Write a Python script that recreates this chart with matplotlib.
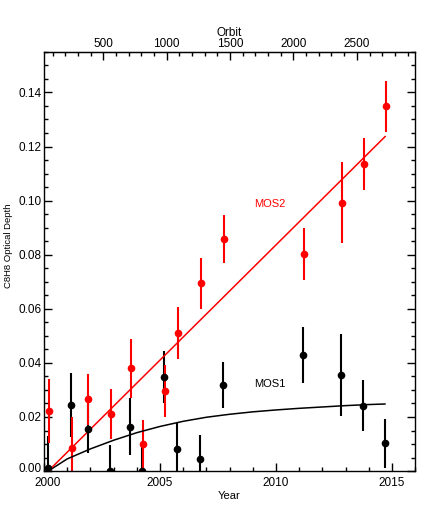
import matplotlib
matplotlib.use('Agg')
import matplotlib.pyplot as plt
import matplotlib.transforms as mtransforms
from matplotlib.ticker import MultipleLocator

plt.rcParams['font.family'] = ['Liberation Sans', 'DejaVu Sans']
plt.rcParams['font.size'] = 8.5

# MOS1 (black) measurements
mos1_year = [2000.18, 2001.16, 2001.88, 2002.84, 2003.70, 2004.21, 2005.19,
             2005.73, 2006.72, 2007.70, 2011.18, 2012.82, 2013.75, 2014.70]
mos1_od = [0.0012, 0.0244, 0.0156, 0.0001, 0.0164, 0.0000, 0.0347,
           0.0083, 0.0043, 0.0319, 0.0428, 0.0356, 0.0242, 0.0103]
mos1_err = [0.0118, 0.0117, 0.0091, 0.0095, 0.0105, 0.0090, 0.0096,
            0.0094, 0.0090, 0.0086, 0.0104, 0.0152, 0.0094, 0.0090]

# MOS2 (red) measurements
mos2_year = [2000.22, 2001.21, 2001.90, 2002.88, 2003.76, 2004.26, 2005.23,
             2005.79, 2006.78, 2007.76, 2011.23, 2012.87, 2013.80, 2014.75]
mos2_od = [0.0223, 0.0084, 0.0265, 0.0210, 0.0380, 0.0099, 0.0296,
           0.0510, 0.0694, 0.0858, 0.0804, 0.0993, 0.1136, 0.1349]
mos2_err = [0.0118, 0.0117, 0.0095, 0.0093, 0.0110, 0.0090, 0.0097,
            0.0097, 0.0093, 0.0090, 0.0096, 0.0148, 0.0096, 0.0094]

# fitted trends
fit1_year = [2000.18, 2001.0, 2002.0, 2003.0, 2004.0, 2005.0, 2006.0, 2007.0,
             2008.0, 2009.0, 2010.0, 2011.0, 2012.0, 2013.0, 2014.0, 2014.70]
fit1_od = [0.0, 0.0045, 0.0082, 0.0114, 0.0142, 0.0165, 0.0184, 0.0199,
           0.0210, 0.0219, 0.0226, 0.0232, 0.0237, 0.0242, 0.0246, 0.0248]
fit2_year = [2000.18, 2014.71]
fit2_od = [0.0, 0.1237]

# year <-> XMM orbit number
def year2orbit(y):
    return 33 + 182.9 * (y - 2000)

def orbit2year(o):
    return 2000 + (o - 33) / 182.9

fig = plt.figure(figsize=(4.36, 5.24), dpi=100)
ax = fig.add_axes([0.101, 0.101, 0.851, 0.80])

ax.errorbar(mos1_year, mos1_od, yerr=mos1_err, fmt='o', color='black',
            ms=4.5, elinewidth=1.5, capsize=0)
ax.errorbar(mos2_year, mos2_od, yerr=mos2_err, fmt='o', color='red',
            ms=4.5, elinewidth=1.5, capsize=0)
ax.plot(fit1_year, fit1_od, color='black', lw=1.1)
ax.plot(fit2_year, fit2_od, color='red', lw=1.1)

ax.text(2009.75, 0.0988, 'MOS2', color='red', fontsize=8, ha='center', va='center')
ax.text(2009.75, 0.0323, 'MOS1', color='black', fontsize=8, ha='center', va='center')

ax.set_xlim(2000, 2016)
ax.set_ylim(0, 0.155)
ax.xaxis.set_major_locator(MultipleLocator(5))
ax.xaxis.set_minor_locator(MultipleLocator(1))
ax.yaxis.set_major_locator(MultipleLocator(0.02))
ax.yaxis.set_minor_locator(MultipleLocator(0.005))
ax.yaxis.set_major_formatter(plt.FormatStrFormatter('%.2f'))
ax.tick_params(which='both', direction='in', right=True, top=False, width=1.0)
ax.tick_params(which='major', length=6, pad=4)
ax.tick_params(which='minor', length=3)
ax.tick_params(axis='y', which='major', pad=2)
for s in ax.spines.values():
    s.set_linewidth(1.0)

ax.set_xlabel('Year', fontsize=8, labelpad=2)
ax.set_ylabel('C8H8 Optical Depth', fontsize=6.8)
ax.yaxis.set_label_coords(-0.084, 0.537)

top = ax.secondary_xaxis('top', functions=(year2orbit, orbit2year))
top.xaxis.set_major_locator(MultipleLocator(500))
top.xaxis.set_minor_locator(MultipleLocator(100))
top.tick_params(which='both', direction='in', width=1.0)
top.tick_params(which='major', length=6, pad=1)
top.tick_params(which='minor', length=3)
top.set_xlabel('Orbit', labelpad=1.5)

# IDL-style nudges of the first tick labels
fig.canvas.draw()
up = mtransforms.ScaledTranslation(0, 3.5 / 100, fig.dpi_scale_trans)
right = mtransforms.ScaledTranslation(3.5 / 100, 0, fig.dpi_scale_trans)
for lab in ax.get_yticklabels():
    if lab.get_text() == '0.00':
        lab.set_transform(lab.get_transform() + up)
for lab in ax.get_xticklabels():
    if lab.get_text() == '2000':
        lab.set_transform(lab.get_transform() + right)

fig.savefig('out.png', dpi=100)
